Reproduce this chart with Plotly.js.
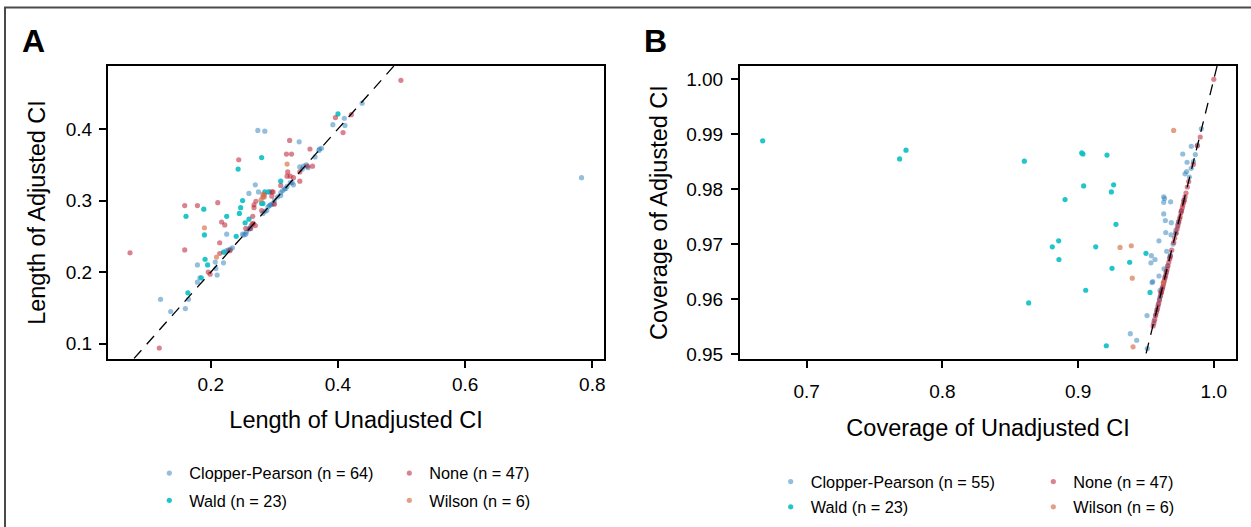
<!DOCTYPE html>
<html>
<head>
<meta charset="utf-8">
<script src="https://cdn.plot.ly/plotly-3.0.1.min.js"></script>
<style>html,body{margin:0;padding:0;background:#fff;}#chart{width:1251px;height:527px;}</style>
</head>
<body>
<div id="chart"></div>
<script>
// ---------- Panel A: Length of CI ----------
const cpA_x = [0.438,0.392,0.410,0.411,0.274,0.285,0.339,0.371,0.374,0.364,0.340,0.346,0.353,0.330,0.328,0.318,0.313,0.310,0.310,0.290,0.275,0.270,0.260,0.288,0.290,0.292,0.294,0.296,0.299,0.263,0.250,0.255,0.225,0.225,0.228,0.222,0.220,0.207,0.210,0.208,0.179,0.183,0.179,0.165,0.160,0.137,0.121,0.783,0.252,0.256,0.260,0.263,0.316,0.320,0.325,0.344,0.350,0.370,0.231,0.234,0.282,0.285,0.300,0.305];
const cpA_y = [0.436,0.406,0.415,0.405,0.398,0.397,0.382,0.372,0.373,0.361,0.347,0.348,0.346,0.322,0.325,0.317,0.314,0.311,0.307,0.312,0.312,0.322,0.310,0.286,0.291,0.293,0.294,0.295,0.296,0.261,0.253,0.253,0.253,0.230,0.231,0.228,0.213,0.214,0.196,0.205,0.210,0.192,0.186,0.162,0.149,0.145,0.162,0.332,0.252,0.256,0.260,0.264,0.316,0.320,0.325,0.344,0.350,0.370,0.232,0.234,0.282,0.285,0.300,0.305];
const waldA_x = [0.400,0.280,0.243,0.310,0.285,0.280,0.282,0.250,0.247,0.245,0.254,0.260,0.240,0.225,0.189,0.161,0.190,0.191,0.195,0.220,0.185,0.164,0.292];
const waldA_y = [0.421,0.360,0.344,0.327,0.312,0.296,0.296,0.300,0.290,0.282,0.269,0.274,0.250,0.278,0.288,0.278,0.252,0.218,0.210,0.228,0.192,0.171,0.312];
const noneA_x = [0.499,0.396,0.421,0.408,0.324,0.356,0.319,0.327,0.244,0.360,0.321,0.340,0.352,0.320,0.325,0.330,0.340,0.310,0.296,0.298,0.296,0.284,0.282,0.271,0.268,0.268,0.280,0.266,0.265,0.267,0.255,0.262,0.159,0.179,0.211,0.217,0.222,0.214,0.214,0.230,0.159,0.196,0.199,0.073,0.119,0.300,0.270];
const noneA_y = [0.468,0.416,0.420,0.395,0.384,0.372,0.365,0.365,0.357,0.348,0.340,0.340,0.348,0.334,0.334,0.332,0.327,0.321,0.312,0.312,0.306,0.308,0.305,0.299,0.294,0.290,0.286,0.278,0.267,0.268,0.261,0.261,0.293,0.293,0.297,0.270,0.266,0.241,0.226,0.230,0.231,0.200,0.197,0.227,0.094,0.295,0.265];
const wilsonA_x = [0.320,0.282,0.284,0.279,0.190,0.209];
const wilsonA_y = [0.351,0.309,0.305,0.301,0.262,0.221];

// ---------- Panel B: Coverage of CI ----------
const cpB_x = [0.9908,0.9834,0.9771,0.9803,0.9864,0.9834,0.9788,0.9800,0.9631,0.9637,0.9631,0.9682,0.9631,0.9643,0.9687,0.9646,0.9685,0.9721,0.9596,0.9653,0.9540,0.9567,0.9537,0.9633,0.9596,0.9545,0.9604,0.9604,0.9508,0.9510,0.9385,0.9432,0.9550,0.9880,0.9850,0.9820,0.9780,0.9760,0.9740,0.9720,0.9700,0.9680,0.9660,0.9650,0.9640,0.9630,0.9620,0.9610,0.9600,0.9590,0.9580,0.9570,0.9560,0.9675,0.9735];
const cpB_y = [0.9910,0.9878,0.9864,0.9849,0.9863,0.9838,0.9828,0.9832,0.9786,0.9783,0.9776,0.9777,0.9755,0.9743,0.9739,0.9721,0.9717,0.9725,0.9706,0.9687,0.9679,0.9672,0.9666,0.9655,0.9642,0.9630,0.9616,0.9604,0.9570,0.9510,0.9537,0.9525,0.9632,0.9880,0.9850,0.9822,0.9780,0.9760,0.9741,0.9720,0.9700,0.9680,0.9661,0.9650,0.9640,0.9630,0.9620,0.9611,0.9600,0.9590,0.9580,0.9571,0.9560,0.9676,0.9736];
const waldB_x = [0.7732,0.7685,0.6676,0.8604,0.9027,0.9036,0.9213,0.9041,0.9262,0.9245,0.8904,0.9279,0.8857,0.8810,0.9130,0.8859,0.9500,0.9380,0.9250,0.9056,0.9530,0.8636,0.9208];
const waldB_y = [0.9871,0.9855,0.9888,0.9851,0.9866,0.9864,0.9862,0.9806,0.9808,0.9795,0.9781,0.9736,0.9706,0.9695,0.9695,0.9672,0.9683,0.9667,0.9656,0.9616,0.9612,0.9593,0.9515];
const noneB_x = [1.0,0.990,0.9878,0.9849,0.9815,0.9805,0.9795,0.9788,0.9782,0.9778,0.9772,0.9768,0.9762,0.9758,0.9752,0.9748,0.9742,0.9735,0.9730,0.9722,0.9712,0.9705,0.9690,0.9680,0.9675,0.9668,0.9662,0.9656,0.9650,0.9645,0.9640,0.9635,0.9630,0.9625,0.9620,0.9614,0.9608,0.9600,0.9594,0.9588,0.9583,0.9578,0.9572,0.9565,0.9558,0.9553,0.9612];
const noneB_y = [1.0,0.9895,0.9879,0.9845,0.9814,0.9804,0.9793,0.9786,0.9780,0.9776,0.9771,0.9766,0.9761,0.9757,0.9750,0.9746,0.9740,0.9733,0.9728,0.9720,0.9711,0.9703,0.9689,0.9678,0.9673,0.9667,0.9660,0.9654,0.9648,0.9643,0.9638,0.9633,0.9628,0.9623,0.9618,0.9612,0.9606,0.9598,0.9592,0.9586,0.9581,0.9576,0.9570,0.9563,0.9556,0.9551,0.9613];
const wilsonB_x = [0.9704,0.9309,0.9392,0.9399,0.9405,0.9628];
const wilsonB_y = [0.9907,0.9694,0.9697,0.9638,0.9513,0.9630];

// identity reference line (y = x)
const identity = [0, 1.1];

// legend labels
const labelsA = ['Clopper-Pearson (n = 64)', 'Wald (n = 23)', 'None (n = 47)', 'Wilson (n = 6)'];
const labelsB = ['Clopper-Pearson (n = 55)', 'Wald (n = 23)', 'None (n = 47)', 'Wilson (n = 6)'];

// ticks
const tickA_x = [0.2, 0.4, 0.6, 0.8];
const tickA_xt = ['0.2', '0.4', '0.6', '0.8'];
const tickA_y = [0.1, 0.2, 0.3, 0.4];
const tickA_yt = ['0.1', '0.2', '0.3', '0.4'];
const tickB_x = [0.7, 0.8, 0.9, 1.0];
const tickB_xt = ['0.7', '0.8', '0.9', '1.0'];
const tickB_y = [0.95, 0.96, 0.97, 0.98, 0.99, 1.00];
const tickB_yt = ['0.95', '0.96', '0.97', '0.98', '0.99', '1.00'];

const COL = {
  cp: 'rgb(40,125,185)', wald: 'rgb(10,192,196)', none: 'rgb(185,30,50)', wilson: 'rgb(214,120,80)'
};
const OPA = {cp: 0.5, wald: 0.9, none: 0.55, wilson: 0.7};
const MS = 5.2;

function pts(x, y, name, key, xa, ya, leg, grp) {
  return {
    type: 'scatter', mode: 'markers', x: x, y: y, name: name,
    xaxis: xa, yaxis: ya, legend: leg, legendgroup: grp,
    marker: {color: COL[key], opacity: OPA[key], size: MS, line: {width: 0}},
    hoverinfo: 'x+y'
  };
}
function diag(xa, ya) {
  return {type: 'scatter', mode: 'lines', x: identity, y: identity, xaxis: xa, yaxis: ya,
    showlegend: false, hoverinfo: 'skip',
    line: {color: '#000', width: 1.3, dash: '11px,8px'}};
}

const data = [
  pts(cpA_x, cpA_y, labelsA[0], 'cp', 'x', 'y', 'legend', 'a1'),
  pts(waldA_x, waldA_y, labelsA[1], 'wald', 'x', 'y', 'legend', 'a2'),
  pts(noneA_x, noneA_y, labelsA[2], 'none', 'x', 'y', 'legend2', 'a3'),
  pts(wilsonA_x, wilsonA_y, labelsA[3], 'wilson', 'x', 'y', 'legend2', 'a4'),
  diag('x', 'y'),
  pts(cpB_x, cpB_y, labelsB[0], 'cp', 'x2', 'y2', 'legend3', 'b1'),
  pts(waldB_x, waldB_y, labelsB[1], 'wald', 'x2', 'y2', 'legend3', 'b2'),
  pts(noneB_x, noneB_y, labelsB[2], 'none', 'x2', 'y2', 'legend4', 'b3'),
  pts(wilsonB_x, wilsonB_y, labelsB[3], 'wilson', 'x2', 'y2', 'legend4', 'b4'),
  diag('x2', 'y2')
];

const FONT = 'Liberation Sans, Arial, Helvetica, sans-serif';
const W = 1251, H = 527;
const px = v => v / W, py = v => 1 - v / H;

const axisBase = {
  showline: true, mirror: true, linecolor: '#000', linewidth: 2,
  ticks: 'outside', ticklen: 7, tickwidth: 2, tickcolor: '#000',
  showgrid: false, zeroline: false,
  tickfont: {family: FONT, size: 19, color: '#000'},
  tickmode: 'array'
};
const legBase = {
  orientation: 'v', xanchor: 'left', yanchor: 'top', bgcolor: 'rgba(0,0,0,0)',
  font: {family: FONT, size: 16.3, color: '#000'}, itemclick: false
};

const layout = {
  width: W, height: H,
  margin: {l: 0, r: 0, t: 0, b: 0, autoexpand: false},
  paper_bgcolor: '#fff', plot_bgcolor: '#fff',
  font: {family: FONT, color: '#000'},
  xaxis: Object.assign({}, axisBase, {
    domain: [px(107.9), px(604.2)], range: [0.0382, 0.8187], anchor: 'y',
    tickvals: tickA_x, ticktext: tickA_xt, ticklabelstandoff: 0,
    title: {text: 'Length of Unadjusted CI', font: {family: FONT, size: 23.5, color: '#000'}, standoff: 18}
  }),
  yaxis: Object.assign({}, axisBase, {
    domain: [py(359), py(66)], range: [0.0786, 0.488], anchor: 'x',
    tickvals: tickA_y, ticktext: tickA_yt, ticklabelstandoff: 3,
    title: {text: 'Length of Adjusted CI', font: {family: FONT, size: 23.5, color: '#000'}, standoff: 13}
  }),
  xaxis2: Object.assign({}, axisBase, {
    domain: [px(740), px(1236.2)], range: [0.6509, 1.0165], anchor: 'y2',
    tickvals: tickB_x, ticktext: tickB_xt, ticklabelstandoff: 7,
    title: {text: 'Coverage of Unadjusted CI', font: {family: FONT, size: 23.5, color: '#000'}, standoff: 19}
  }),
  yaxis2: Object.assign({}, axisBase, {
    domain: [py(359), py(66)], range: [0.94909, 1.00242], anchor: 'x2',
    tickvals: tickB_y, ticktext: tickB_yt, ticklabelstandoff: 4,
    title: {text: 'Coverage of Adjusted CI', font: {family: FONT, size: 23.5, color: '#000'}, standoff: 12}
  }),
  legend: Object.assign({}, legBase, {x: px(189.3 - 40), y: py(456), tracegroupgap: 3}),
  legend2: Object.assign({}, legBase, {x: px(429.3 - 40), y: py(456), tracegroupgap: 3}),
  legend3: Object.assign({}, legBase, {x: px(810.7 - 40), y: py(464.5), tracegroupgap: 1}),
  legend4: Object.assign({}, legBase, {x: px(1073.3 - 40), y: py(464.5), tracegroupgap: 1}),
  annotations: [
    {text: '<b>A</b>', xref: 'paper', yref: 'paper', x: px(19.5), y: py(41), xanchor: 'left', yanchor: 'middle',
     showarrow: false, font: {family: FONT, size: 32, color: '#000'}},
    {text: '<b>B</b>', xref: 'paper', yref: 'paper', x: px(641.5), y: py(41), xanchor: 'left', yanchor: 'middle',
     showarrow: false, font: {family: FONT, size: 32, color: '#000'}}
  ],
  shapes: [
    {type: 'rect', xref: 'paper', yref: 'paper', x0: px(5), x1: px(1270), y0: py(560), y1: py(7.5),
     line: {color: '#4a4a4a', width: 2}, fillcolor: 'rgba(0,0,0,0)', layer: 'below'}
  ],
  showlegend: true
};

Plotly.newPlot('chart', data, layout, {displayModeBar: false, staticPlot: true});
</script>
</body>
</html>
